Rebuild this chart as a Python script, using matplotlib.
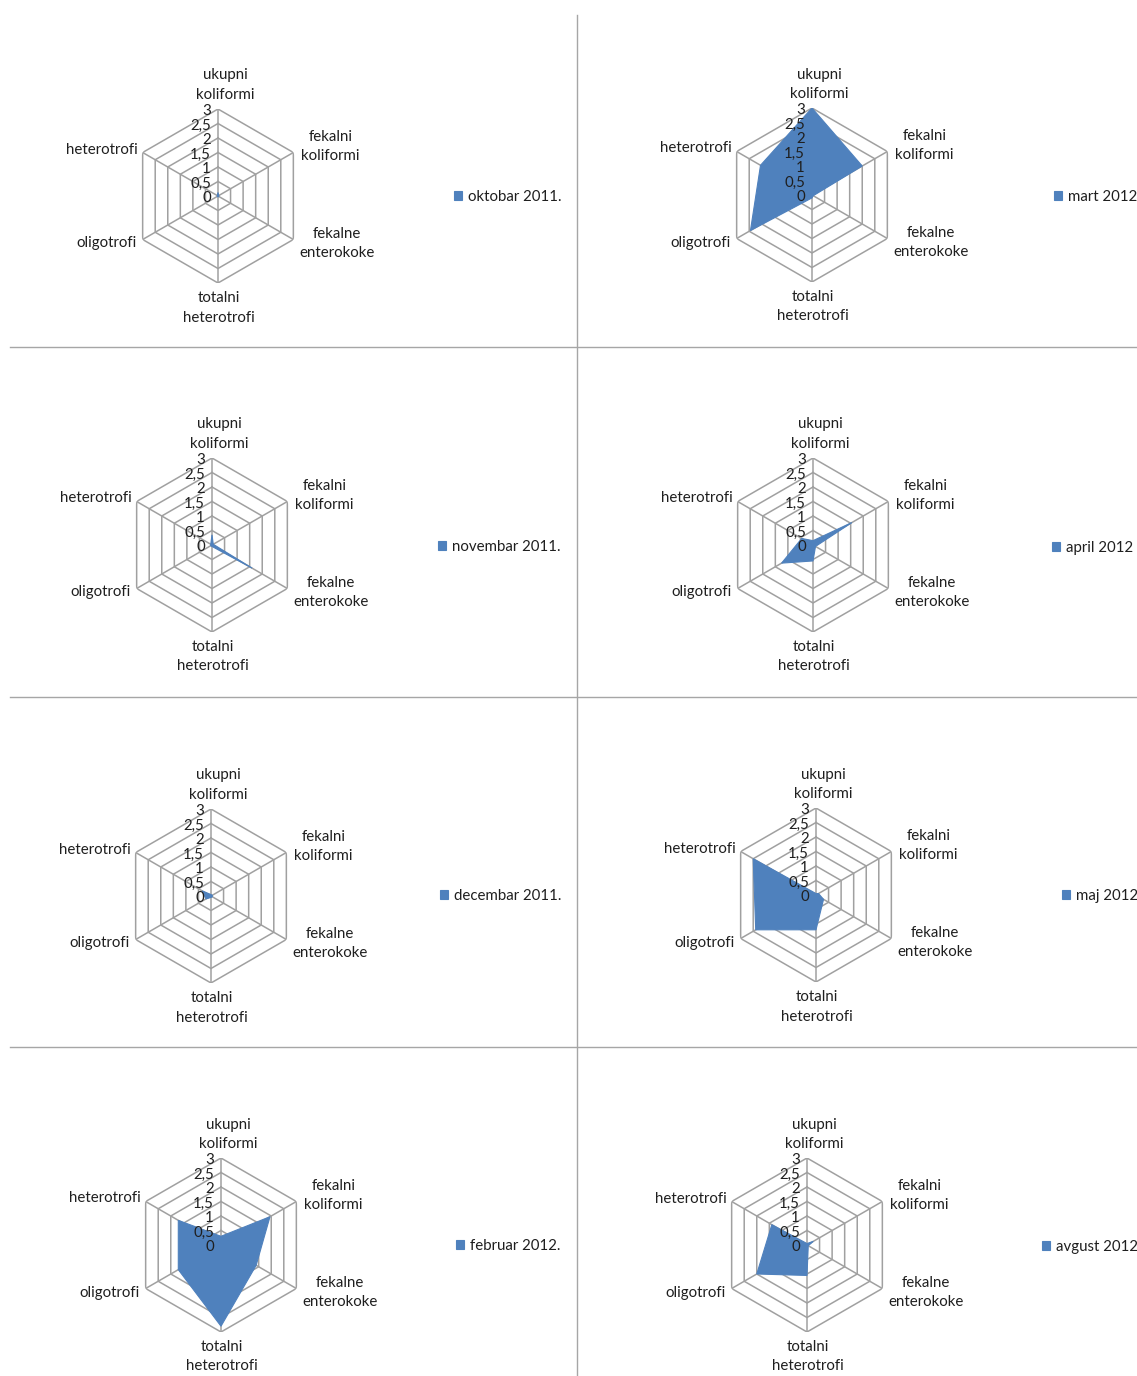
import numpy as np
import matplotlib
matplotlib.use("Agg")
import matplotlib.pyplot as plt
from matplotlib.lines import Line2D

plt.rcParams['font.family'] = ['Lato', 'DejaVu Sans']

# Axis categories, clockwise from the top
categories = ["ukupni\nkoliformi", "fekalni\nkoliformi", "fekalne\nenterokoke",
              "totalni\nheterotrofi", "oligotrofi", "heterotrofi"]
tick_values = [0, 0.5, 1, 1.5, 2, 2.5, 3]
tick_labels = ["0", "0,5", "1", "1,5", "2", "2,5", "3"]

# Monthly values (log scale units) per category
oktobar_2011 = [0.12, 0.03, 0.03, 0.03, 0.03, 0.03]
novembar_2011 = [0.35, 0.05, 1.6, 0.05, 0.05, 0.05]
decembar_2011 = [0.05, 0.05, 0.05, 0.05, 0.2, 0.35]
februar_2012 = [0.3, 1.95, 1.4, 2.8, 1.7, 1.7]
mart_2012 = [3.0, 2.0, 0.05, 0.1, 2.45, 2.05]
april_2012 = [0.15, 1.55, 0.1, 0.55, 1.25, 0.45]
maj_2012 = [0.05, 0.1, 0.3, 1.2, 2.4, 2.5]
avgust_2012 = [0.05, 0.25, 0.05, 1.05, 2.0, 1.4]

W, H = 1137, 1376
R = 87  # radar radius in pixels

# (series, legend label, chart centre px, legend anchor px)
panels = [
    (oktobar_2011, "oktobar 2011.", (218, 196), (454, 197)),
    (mart_2012, "mart 2012", (812, 195), (1054, 197)),
    (novembar_2011, "novembar 2011.", (212, 545), (438, 547)),
    (april_2012, "april 2012", (813, 545), (1052, 548)),
    (decembar_2011, "decembar 2011.", (211, 896), (440, 896)),
    (maj_2012, "maj 2012", (816, 895), (1062, 896)),
    (februar_2012, "februar 2012.", (221, 1245), (456, 1246)),
    (avgust_2012, "avgust 2012", (807, 1245), (1042, 1247)),
]

GRID = "#a0a0a0"
FILL = "#4F81BD"
TXT = "#1f1f1f"
FS = 10.8

fig = plt.figure(figsize=(W / 100, H / 100), dpi=100)
fig.patch.set_facecolor("white")

# panel separators
sep = "#a6a6a6"
fig.add_artist(Line2D([577 / W, 577 / W], [0, 1 - 15 / H], color=sep, lw=1))
for yy in (347, 697, 1047):
    fig.add_artist(Line2D([10 / W, 1], [1 - yy / H, 1 - yy / H], color=sep, lw=1))

n = len(categories)
angles = np.linspace(0, 2 * np.pi, n, endpoint=False)
closed = np.concatenate([angles, angles[:1]])

# label offsets (pixels) and alignment for each category
lab_fmt = [
    ((7, 7), "center", "bottom"),
    ((8, 6), "left", "center"),
    ((6, -4), "left", "center"),
    ((1, -8), "center", "top"),
    ((-6, -4), "right", "center"),
    ((-5, 3), "right", "center"),
]

for values, label, (cx, cy), (lx, ly) in panels:
    ax = fig.add_axes([(cx - R) / W, 1 - (cy + R) / H, 2 * R / W, 2 * R / H],
                      projection="polar")
    ax.set_theta_offset(np.pi / 2)
    ax.set_theta_direction(-1)
    ax.set_ylim(0, 3)
    ax.grid(False)
    ax.spines["polar"].set_visible(False)
    ax.set_xticks([])
    ax.set_yticks([])
    ax.patch.set_alpha(0)

    # hexagonal rings and spokes
    for lvl in tick_values[1:]:
        ax.plot(closed, [lvl] * (n + 1), color=GRID, lw=1.1, zorder=1)
    for a in angles:
        ax.plot([a, a], [0, 3], color=GRID, lw=1.1, zorder=1)

    vals = list(values) + [values[0]]
    poly = ax.fill(closed, vals, color=FILL, lw=0.8, ec=FILL, zorder=3)[0]

    # radial tick labels along the top spoke
    for v, t in zip(tick_values, tick_labels):
        ax.annotate(t, xy=(0, v), xytext=(-7, -2), textcoords="offset pixels",
                    ha="right", va="center", fontsize=FS, color=TXT, zorder=4,
                    annotation_clip=False)

    # category labels
    for a, cat, ((dx, dy), ha, va) in zip(angles, categories, lab_fmt):
        ax.annotate(cat, xy=(a, 3), xytext=(dx, dy), textcoords="offset pixels",
                    ha=ha, va=va, multialignment="center", fontsize=FS,
                    color=TXT, linespacing=1.5, annotation_clip=False)

    ax.legend([poly], [label], loc="center left",
              bbox_to_anchor=(lx / W, 1 - ly / H), bbox_transform=fig.transFigure,
              frameon=False, fontsize=FS, handlelength=0.55, handleheight=0.55,
              handletextpad=0.35, borderpad=0, borderaxespad=0,
              labelcolor=TXT)

fig.savefig("out.png", dpi=100, facecolor="white")
